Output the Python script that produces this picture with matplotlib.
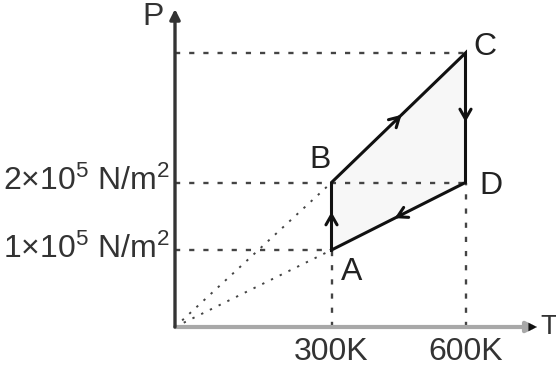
import numpy as np
import matplotlib
matplotlib.use("Agg")
import matplotlib.pyplot as plt

plt.rcParams['font.family'] = ['Liberation Sans', 'DejaVu Sans']
plt.rcParams['mathtext.fontset'] = 'custom'
plt.rcParams['mathtext.rm'] = 'Liberation Sans'
plt.rcParams['mathtext.it'] = 'Liberation Sans'

# ---- data ----
states = ['A', 'B', 'C', 'D']
T_vals = [300, 300, 600, 600]          # K
p_vals = [1, 2, 4, 2]                  # x10^5 N/m^2
T_ticks = [300, 600]
T_tick_labels = ['300K', '600K']
p_ticks = [1, 2]
p_tick_labels = [r'1×10$^{5}$ N/m$^{2}$', r'2×10$^{5}$ N/m$^{2}$']
T_max, p_max = 760, 5

# schematic (non-proportional) axes of the drawing
x_knots = ([0, 300, 600, T_max], [0, 156.5, 290.5, 362])
y_knots = ([0, 1, 2, 4, p_max], [0, 77, 144.5, 274, 318])

def fwd_x(v): return np.interp(v, x_knots[0], x_knots[1])
def inv_x(v): return np.interp(v, x_knots[1], x_knots[0])
def fwd_y(v): return np.interp(v, y_knots[0], y_knots[1])
def inv_y(v): return np.interp(v, y_knots[1], y_knots[0])

W, H = 556, 368
fig = plt.figure(figsize=(W / 100, H / 100), dpi=100)
ox, oy = 175, 327
ax = fig.add_axes([ox / W, (H - oy) / H, 362 / W, 318 / H])
ax.set_xscale('function', functions=(fwd_x, inv_x))
ax.set_yscale('function', functions=(fwd_y, inv_y))
ax.set_xlim(0, T_max)
ax.set_ylim(0, p_max)
ax.axis('off')

ink = '#111111'
dash_c = '#444444'

# fill of the cycle
ax.fill(T_vals, p_vals, color='#f7f7f7', zorder=1, lw=0)

# dashed guide lines
Ta, Tb, Tc, Td = T_vals
pa, pb, pc, pd = p_vals
kw = dict(color=dash_c, lw=1.7, dashes=(2.2, 3.8), zorder=2, clip_on=False)
ax.plot([0, Tc], [pc, pc], **kw)
ax.plot([0, Td], [pd, pd], **kw)
ax.plot([0, Ta], [pa, pa], **kw)
ax.plot([Ta, Ta], [0, pa], **kw)
ax.plot([Td, Td], [0, pd], **kw)
# dotted lines from origin
kd = dict(color=dash_c, lw=1.4, dashes=(1.2, 3.8), zorder=2, clip_on=False)
ax.plot([0, Ta], [0, pa], **kd)
ax.plot([0, Tb], [0, pb], **kd)

# cycle edges
cyc_T = T_vals + [T_vals[0]]
cyc_p = p_vals + [p_vals[0]]
ax.plot(cyc_T, cyc_p, color=ink, lw=2.2, zorder=3, solid_joinstyle='miter')

# direction arrows at edge midpoints
order = [0, 1, 2, 3, 0]
for i in range(4):
    a, b = order[i], order[i + 1]
    (x0, y0), (x1, y1) = (T_vals[a], p_vals[a]), (T_vals[b], p_vals[b])
    d0 = ax.transData.transform((x0, y0))
    d1 = ax.transData.transform((x1, y1))
    m = (d0 + d1) / 2
    u = (d1 - d0) / np.hypot(*(d1 - d0))
    s = ax.transData.inverted().transform(m - u * 7)
    e = ax.transData.inverted().transform(m + u * 7)
    ax.annotate('', xy=e, xytext=s,
                arrowprops=dict(arrowstyle='->,head_length=0.7,head_width=0.4',
                                color=ink, lw=2.2), zorder=4)

# axes with arrows
ax.annotate('', xy=(1, 0), xytext=(0, 0), xycoords='axes fraction',
            arrowprops=dict(arrowstyle='-|>,head_length=0.6,head_width=0.3',
                            color='#a8a8a8', lw=3.0, shrinkA=0, shrinkB=0))
ax.annotate('', xy=(1.0, 0), xytext=(0.985, 0), xycoords='axes fraction',
            arrowprops=dict(arrowstyle='-|>,head_length=0.6,head_width=0.3',
                            color='#111111', lw=0.1, shrinkA=0, shrinkB=0))
ax.annotate('', xy=(0, 1), xytext=(0, 0), xycoords='axes fraction',
            arrowprops=dict(arrowstyle='-|>,head_length=0.6,head_width=0.3',
                            color='#333333', lw=2.4, shrinkA=0, shrinkB=0))

fs = 23
tc = '#333333'
# tick labels
for t, lab in zip(T_ticks, T_tick_labels):
    ax.annotate(lab, xy=(t, 0), xytext=(0, -25), textcoords='offset pixels',
                ha='center', va='center', fontsize=fs, color=tc)
for p, lab in zip(p_ticks, p_tick_labels):
    ax.annotate(lab, xy=(0, p), xytext=(-5, 1), textcoords='offset pixels',
                ha='right', va='center', fontsize=fs, color=tc)

# axis names
ax.annotate('P', xy=(0, 1), xycoords='axes fraction', xytext=(-22, -8),
            textcoords='offset pixels', ha='center', va='center', fontsize=fs, color=tc)
ax.annotate('T', xy=(1, 0), xycoords='axes fraction', xytext=(12, 0),
            textcoords='offset pixels', ha='center', va='center', fontsize=20, color=tc)

# state labels
offs = {'A': (20, -22), 'B': (-11, 23), 'C': (19, 6), 'D': (25, -3)}
for name, t, p in zip(states, T_vals, p_vals):
    ax.annotate(name, xy=(t, p), xytext=offs[name], textcoords='offset pixels',
                ha='center', va='center', fontsize=23, color='#222222')

fig.savefig('out.png', dpi=100)
